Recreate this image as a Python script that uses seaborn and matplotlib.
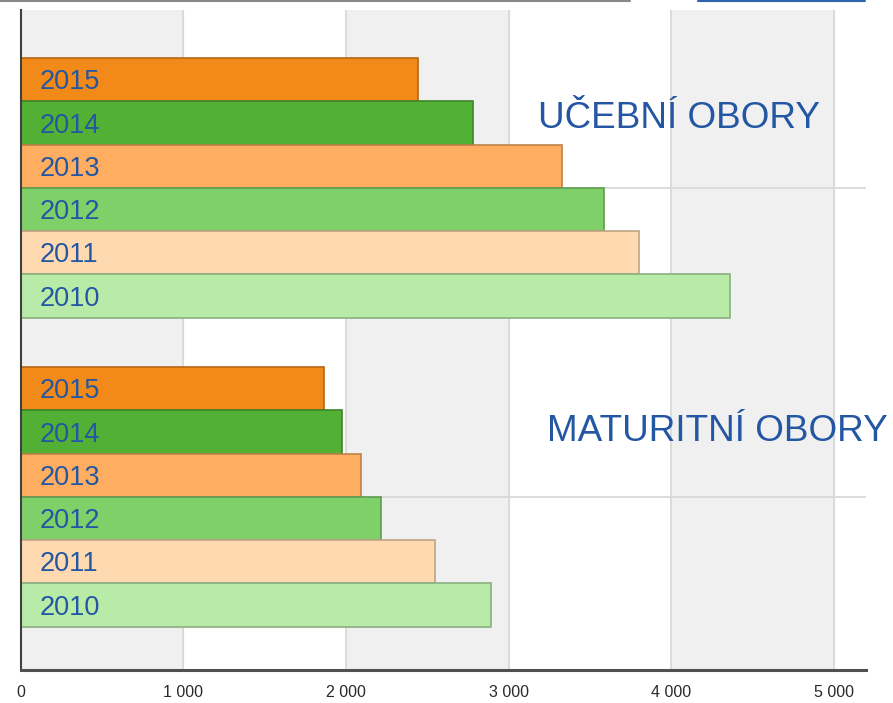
import pandas as pd
import matplotlib.pyplot as plt
import matplotlib.colors as mcolors
from matplotlib.lines import Line2D
import seaborn as sns

# Data
obory = ["UČEBNÍ OBORY", "MATURITNÍ OBORY"]
roky = ["2015", "2014", "2013", "2012", "2011", "2010"]
ucebni = [2445, 2780, 3330, 3585, 3800, 4365]
maturitni = [1865, 1975, 2095, 2215, 2545, 2890]
barvy = ["#F28A1A", "#52B135", "#FFAD60", "#80D06A", "#FFD9B0", "#B8EAA8"]
xticks = [0, 1000, 2000, 3000, 4000, 5000]
xticklabels = ["0", "1 000", "2 000", "3 000", "4 000", "5 000"]

df = pd.DataFrame({
    "obor": [obory[0]] * len(roky) + [obory[1]] * len(roky),
    "rok": roky + roky,
    "pocet": ucebni + maturitni,
})

sns.set_style("white")
plt.rcParams['font.family'] = ['Liberation Sans', 'DejaVu Sans']

fig = plt.figure(figsize=(8.93, 7.03), dpi=100)
ax = fig.add_axes([0.0235, 0.047, 0.9463, 0.9388])
ax.set_facecolor("white")

# alternating column background + grid
for x0 in [0, 2000, 4000]:
    ax.axvspan(x0, x0 + 1000, color="#F0F0F0", zorder=0)
for x in xticks[1:]:
    ax.axvline(x, color="#D9D9D9", lw=1.3, zorder=0.5)
for y in [0, 1]:
    ax.axhline(y, color="#D9D9D9", lw=1.3, zorder=0.5)

sns.barplot(data=df, x="pocet", y="obor", hue="rok", hue_order=roky,
            palette=barvy, orient="h", width=0.84, saturation=1,
            legend=False, ax=ax, zorder=2)

for cont, rok, c in zip(ax.containers, roky, barvy):
    edge = [v * 0.75 for v in mcolors.to_rgb(c)]
    for bar in cont:
        bar.set_edgecolor(edge)
        bar.set_linewidth(1.2)
        ax.text(117, bar.get_y() + bar.get_height() / 2 + 0.008, rok,
                ha="left", va="center", fontsize=19.5, color="#2356A3", zorder=3)

ax.text(3183, -0.226, obory[0], fontsize=26.6, color="#2356A3", va="center", ha="left")
ax.text(3239, 0.787, obory[1], fontsize=26.6, color="#2356A3", va="center", ha="left",
        clip_on=False)

ax.set_xlim(0, 5200)
ax.set_ylim(1.56, -0.576)
ax.set_xticks(xticks)
ax.set_xticklabels(xticklabels, fontsize=11.5)
ax.set_yticks([0, 1])
ax.set_yticklabels([])
ax.set_xlabel("")
ax.set_ylabel("")
ax.tick_params(axis="x", direction="inout", length=7, width=1.2, color="#404040",
               pad=7, labelcolor="#2a2a2a")
ax.tick_params(axis="y", direction="out", length=9, width=1.2, color="#404040")

for s in ["top", "right"]:
    ax.spines[s].set_visible(False)
ax.spines["left"].set_color("#404040")
ax.spines["left"].set_linewidth(1.5)
ax.spines["bottom"].set_color("#505050")
ax.spines["bottom"].set_linewidth(2.2)

# thin lines at the top edge of the slide
fig.add_artist(Line2D([0, 0.705], [0.998, 0.998], color="#888888", lw=1.5))
fig.add_artist(Line2D([0.782, 0.969], [0.998, 0.998], color="#2E64B0", lw=1.5))

fig.savefig("out.png", dpi=100)
